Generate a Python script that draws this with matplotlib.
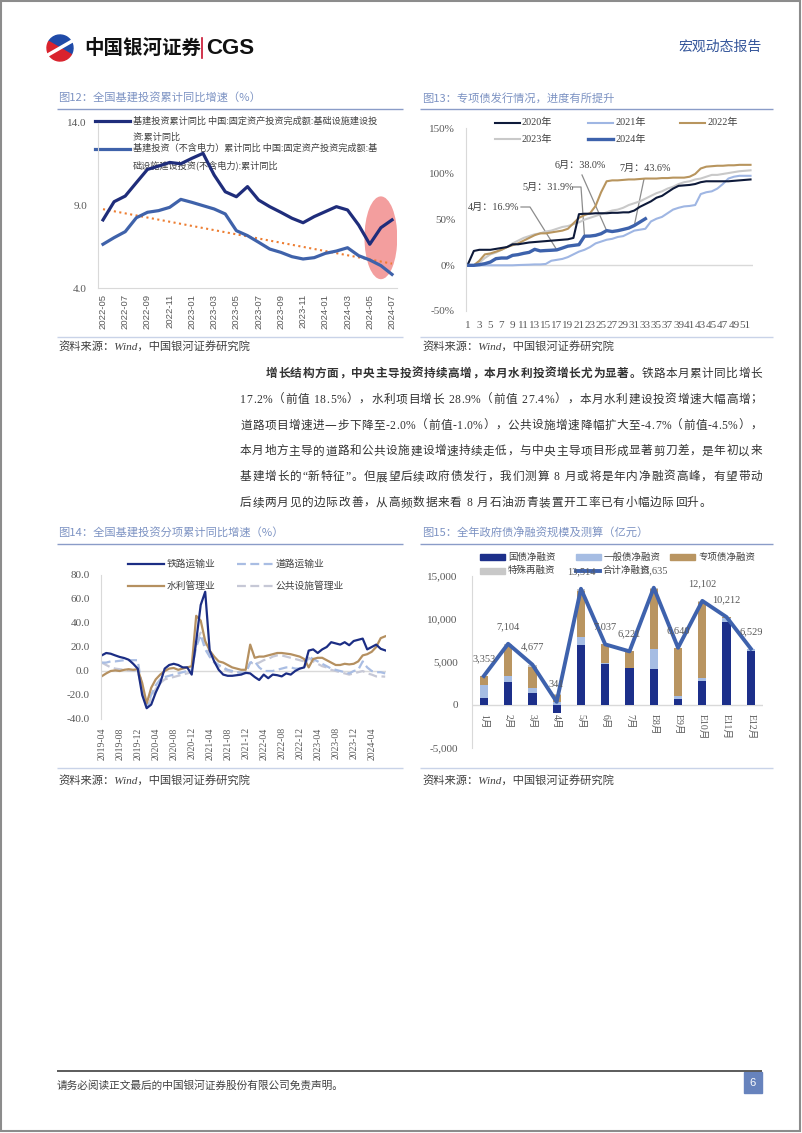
import matplotlib
matplotlib.use('Agg')
import matplotlib.pyplot as plt
import numpy as np
import pandas as pd
from matplotlib.patches import Rectangle, Ellipse, Wedge
from matplotlib.font_manager import FontProperties

W, H = 802, 1133
SERIF = ['Liberation Serif', 'Noto Sans CJK SC']
SANS = ['Liberation Sans', 'Noto Sans CJK SC']
CJK = ['Noto Sans CJK SC', 'DejaVu Sans']
plt.rcParams['font.family'] = SERIF
plt.rcParams['axes.unicode_minus'] = False

TICK = '#595959'
TXT = '#404040'
TITLE = '#7d93c3'
GRID = '#d9d9d9'

# ---- data: fig 12 ----
infra_months = list(pd.period_range('2022-05', '2024-07', freq='M').strftime('%Y-%m'))
infra_total = [8.13, 9.23, 9.57, 10.38, 11.18, 11.38, 11.6, 11.52, 11.85, 12.15, 10.84, 9.83, 9.53,
               10.14, 9.33, 8.93, 8.59, 8.23, 7.96, 8.33, 8.63, 8.93, 8.73, 7.82, 6.66, 7.66, 8.13]
infra_ex_power = [6.66, 7.06, 7.42, 8.26, 8.59, 8.69, 8.89, 9.37, 9.19, 8.99, 8.79, 8.49, 7.48,
                  7.18, 6.78, 6.37, 6.17, 5.91, 5.77, 5.85, 6.11, 6.25, 6.45, 5.97, 5.71, 5.37, 4.84]

# ---- data: fig 13 (weekly progress, %) ----
y2020 = [2, 15.7, 17, 17, 17, 18, 19, 20, 23, 23, 24, 25, 25.5, 26, 26.5, 27, 27.5, 28, 28.5, 30,
         56, 56.5, 56.5, 57, 57, 57, 57.5, 57.5, 58, 58, 60, 64, 67, 70, 74, 76, 80, 84, 87, 87.5,
         88, 89, 91, 92, 92, 92, 92, 92, 92.5, 93, 93.5, 94]
y2021 = [0, 0, 0, 0, 0, 0, 0, 0, 0, 0.3, 0.5, 0.7, 1, 1, 1.5, 5, 6, 7, 9, 12, 15, 17, 20, 24, 26,
         28, 29, 31, 32, 35, 38, 39, 40, 48, 51, 53, 57, 61, 63, 64.5, 65, 66, 78, 80, 81, 84, 89,
         95, 97, 98, 98, 98]
y2022 = [0, 0, 5, 12, 13, 15, 17, 20, 22, 24, 27, 30, 33, 35, 35, 36, 37, 38, 40, 46, 52, 55, 57,
         65, 80, 92, 93, 93, 93.5, 94, 94, 94.5, 95, 95, 95, 95.5, 95.5, 96, 96, 96, 97, 100, 106,
         108, 108.5, 109, 109, 109.5, 109.5, 110, 110, 110]
y2023 = [0, 0, 3, 8, 12, 14, 17, 20, 24, 27, 30, 32, 34, 35, 37, 38, 40, 42, 43, 45, 47, 50, 52,
         54, 56, 58, 60, 61, 63, 66, 68, 70, 73, 76, 79, 81, 84, 86, 89, 91, 92, 94, 95, 97, 99, 99,
         100, 101, 102, 103, 103.5, 104]
y2024 = [0, 0, 0.7, 1.8, 3.6, 7.3, 8, 8, 10.9, 11.7, 13.1, 14.2, 17.5, 15.8, 16.2, 16.5, 16.9,
         18.9, 21, 21.8, 22.6, 31.9, 32, 32.8, 34.6, 38.0, 37, 37.9, 39.3, 40.8, 43.6, 47.3, 51]
note_weeks = [17, 22, 26, 31]
note_months = ['4月', '5月', '6月', '7月']

# ---- data: fig 14 ----
sub_months = list(pd.period_range('2019-04', '2024-07', freq='M').strftime('%Y-%m'))
rail = [13, 15, 14.4, 13, 11.7, 10.8, 9.4, 6, 2, -20, -31, -28, -18, -10, 2, 5, 6, 5, 3, 3,
        -3, 25, 55, 66, 17, 8, 1, -3, -4, -4, -3.5, -3, -1.5, -2, -5, -7.5, -3, -6, -3, -3.5,
        -4.5, -2, -3, 0, 2, 3, 17, 18, 15, 18, 20, 24, 23, 22, 24, 21.5, 25, 26, 27, 18,
        20, 22, 18.5, 17.2]
water = [-4.4, -2, 0, 0.5, 0, 1, 1.5, 1, 1.5, -10, -27, -14, -7, -3, 0, 2, 2.5, 1, 2, 3,
         4, 46, 42, 25, 17, 12, 8, 7, 5, 3, 2, 1, 1, 22, 11, 12, 12, 13, 14, 15,
         15, 14.5, 14, 13, 12, 10, 3, 10, 11, 11, 9, 7, 5, 5, 6, 5.5, 6, 8, 13, 14,
         16, 20, 27.4, 28.9]
road = [7, 7, 8, 8, 8.5, 9, 9, 9, 9, -15, -30, -20, -12, -7, -5, -4, -3, -2, -1, 0,
        1, 20, 30, 18, 12, 8, 5, 3, 1, 0, -1, -1.5, -2, 7, 8, 3, 0, 0, 0, 1,
        2, 3, 3, 2, 2, 3, 12, 10, 8, 6, 4, 2, 1, 0, -1, -2, 0, 1, 8, 3,
        0, -1, -1, -2]
public = [7, 5, 3, 2, 1.5, 1, 0.5, 0.3, 0, -15, -32, -22, -15, -10, -7, -6, -5, -4, -3, -2,
          -1, 25, 32, 22, 12, 7, 4, 2, 0, -1, -1, -1, -1, 7, 6, 7, 9, 10, 12, 13,
          13, 12, 11, 10, 9, 8, 11, 8, 6, 4, 3, 1, 0, -1, -2, -3, -2, -1, 0, -2,
          -3, -4.5, -4.5, -4.7]

# ---- data: fig 15 (亿元) ----
months15 = ['1月', '2月', '3月', '4月', '5月', '6月', '7月', 'E8月', 'E9月', 'E10月', 'E11月', 'E12月']
treasury = [778, 2646, 1401, -950, 6926, 4786, 4280, 4200, 623, 2763, 9650, 6226]
general = [1557, 740, 583, 350, 973, 100, 0, 2335, 350, 389, 506, 303]
special = [1018, 3420, 2413, 800, 5340, 2151, 1941, 6900, 5667, 8850, 56, 0]
refin = [0, 298, 280, 141, 275, 0, 0, 200, 0, 100, 0, 0]
total = [3353, 7104, 4677, 341, 13514, 7037, 6221, 13635, 6640, 12102, 10212, 6529]

body = [
    [('增长结构方面，中央主导投资持续高增，本月水利投资增长尤为显著。', 'bold'), ('铁路本月累计同比增长', 'normal')],
    [('17.2%（前值 18.5%），水利项目增长 28.9%（前值 27.4%），本月水利建设投资增速大幅高增；', 'normal')],
    [('道路项目增速进一步下降至-2.0%（前值-1.0%），公共设施增速降幅扩大至-4.7%（前值-4.5%），', 'normal')],
    [('本月地方主导的道路和公共设施建设增速持续走低，与中央主导项目形成显著剪刀差，是年初以来', 'normal')],
    [('基建增长的“新特征”。但展望后续政府债发行，我们测算 8 月或将是年内净融资高峰，有望带动', 'normal')],
    [('后续两月见的边际改善，从高频数据来看 8 月石油沥青装置开工率已有小幅边际回升。', 'normal')],
]

fig = plt.figure(figsize=(W / 100, H / 100), dpi=100)
page = fig.add_axes([0, 0, 1, 1])
page.set_xlim(0, W)
page.set_ylim(H, 0)
page.axis('off')


def frame(l, t, r, b):
    ax = fig.add_axes([l / W, 1 - b / H, (r - l) / W, (b - t) / H])
    ax.patch.set_alpha(0)
    for s in ax.spines.values():
        s.set_visible(False)
    ax.spines['left'].set_visible(True)
    ax.spines['left'].set_color(GRID)
    ax.tick_params(length=0, colors=TICK, labelsize=8)
    return ax


def hline(x0, x1, y, color, lw=1.0):
    page.plot([x0, x1], [y, y], color=color, lw=lw, solid_capstyle='butt')


def ptext(x, y, s, size, color=TXT, **kw):
    kw.setdefault('va', 'center')
    kw.setdefault('family', CJK)
    page.text(x, y, s, fontsize=size, color=color, **kw)


# ---- page furniture ----
page.add_patch(Rectangle((1, 1), 799, 1130, fill=False, edgecolor='#8c8c8c', lw=1.5))
page.add_patch(Wedge((60, 48), 13, -150, 30, color='#1f4aa8'))
page.add_patch(Wedge((60, 48), 13, 30, 210, color='#d9232d'))
page.plot([60 - 11.3, 60 + 11.3], [48 + 6.5, 48 - 6.5], color='white', lw=2.5)
ptext(84, 48, '中国银河证券', 14, color='#111111', weight='bold')
page.plot([202, 202], [38, 58], color='#c8102e', lw=1.2)
ptext(206, 48, 'CGS', 16, color='#111111', weight='bold', family=['Liberation Sans'])
ptext(762, 47, '宏观动态报告', 10, color='#34559a', ha='right')

titles = [(58, 98, '图12：全国基建投资累计同比增速（%）'), (422, 98, '图13：专项债发行情况，进度有所提升'),
          (58, 533, '图14：全国基建投资分项累计同比增速（%）'), (422, 533, '图15：全年政府债净融资规模及测算（亿元）')]
for x, y, s in titles:
    ptext(x, y, s, 8.1, color=TITLE)
for x0, x1 in [(57, 403), (420, 773)]:
    hline(x0, x1, 108.5, '#8a9cc8')
    hline(x0, x1, 544, '#8a9cc8')
    hline(x0, x1, 337, '#c9d3e8')
    hline(x0, x1, 768, '#c9d3e8')
for x, y in [(58, 347), (422, 347), (58, 781), (422, 781)]:
    ptext(x, y, '资料来源：Wind，中国银河证券研究院', 8.1, style='italic', family=SERIF)

hline(57, 762, 1071, '#404040', 1.2)
ptext(57, 1085, '请务必阅读正文最后的中国银河证券股份有限公司免责声明。', 7.7)
page.add_patch(Rectangle((744, 1072), 18, 21, color='#6783bd'))
ptext(753, 1083, '6', 8, color='white', ha='center', family=SANS)

# ---- body text, justified ----
rend = fig.canvas.get_renderer()
BODY_SIZE = 8.4


def char_width(c, weight):
    if c == ' ':
        return BODY_SIZE * 100 / 72 * 0.28
    fp = FontProperties(family=SERIF, size=BODY_SIZE, weight=weight)
    w, _, _ = rend.get_text_width_height_descent(c, fp, ismath=False)
    return w


def draw_line(runs, x0, x1, y, gap=None):
    chars = [(c, wt) for s, wt in runs for c in s]
    widths = [char_width(c, wt) for c, wt in chars]
    if gap is None:
        gap = (x1 - x0 - sum(widths)) / (len(chars) - 1)
    x = x0
    for (c, wt), w in zip(chars, widths):
        page.text(x, y, c, fontsize=BODY_SIZE, weight=wt, color='#333333', va='center', family=SERIF)
        x += w + gap
    return gap


line_gap = 0.8
for i, runs in enumerate(body):
    y = 374 + i * 25.8
    x0 = 266 if i == 0 else 240
    if i == len(body) - 1:
        draw_line(runs, x0, 762, y, gap=line_gap + 0.2)
    else:
        g = draw_line(runs, x0, 762, y)
        if i == 3:
            line_gap = g

# ---- fig 12 ----
ax1 = frame(98, 122.7, 397, 288.3)
x1 = np.arange(len(infra_months))
ax1.add_patch(Ellipse((25, 7.05), 2.95, 5.0, color='#f39e9e', lw=0, zorder=1))
k, b = np.polyfit(x1, infra_ex_power, 1)
ends = x1[[0, -1]]
ax1.plot(ends, k * ends + b, ls=':', color='#ed7d31', lw=1.5, zorder=2)
ax1.plot(x1, infra_total, color='#1f2d7b', lw=2.3, zorder=3)
ax1.plot(x1, infra_ex_power, color='#3f62aa', lw=2.3, zorder=3)
ax1.set_xlim(-0.45, 26.45)
ax1.set_ylim(4, 14)
ax1.set_yticks([4, 9, 14])
ax1.yaxis.set_major_formatter('{x:.1f}')
ax1.set_xticks(x1[::2], infra_months[::2], rotation=90, family=SANS, fontsize=6.8)
ax1.spines['bottom'].set_visible(True)
ax1.spines['bottom'].set_color(GRID)
ax1.tick_params(axis='y', pad=8)
ax1.tick_params(axis='x', pad=4)

leg_size = 6.6
page.plot([95, 130], [121, 121], color='#1f2d7b', lw=2.3)
ptext(133, 121, '基建投资累计同比 中国:固定资产投资完成额:基础设施建设投', leg_size)
ptext(133, 137.5, '资:累计同比', leg_size)
page.plot([95, 130], [148.5, 148.5], color='#3f62aa', lw=2.3)
ptext(133, 148.5, '基建投资（不含电力）累计同比 中国:固定资产投资完成额:基', leg_size)
ptext(133, 165.5, '础设施建设投资(不含电力):累计同比', leg_size)

# ---- fig 13 ----
ax2 = frame(465.5, 128.3, 753.3, 311)
weeks = np.arange(1, 53)
ax2.axhline(0, color=GRID, lw=1)
series13 = [('2021年', y2021, '#9fb6e3', 1.5), ('2023年', y2023, '#c9c9c9', 1.5),
            ('2022年', y2022, '#b8955e', 1.5), ('2020年', y2020, '#0e1a3a', 1.5),
            ('2024年', y2024, '#3d62ac', 2.4)]
for name, vals, color, lw in series13:
    ax2.plot(weeks[:len(vals)], vals, color=color, lw=lw)
ax2.set_xlim(0.5, 52.5)
ax2.set_ylim(-50, 150)
ax2.set_yticks([-50, 0, 50, 100, 150])
ax2.yaxis.set_major_formatter('{x:.0f}%')
ax2.set_xticks(weeks[:51:2])
ax2.tick_params(axis='y', pad=7.5)
ax2.tick_params(axis='x', pad=7)

leg13 = {'2020年': (495, 122.7), '2021年': (588, 122.7), '2022年': (680, 122.7),
         '2023年': (495, 139), '2024年': (588, 139)}
for name, vals, color, lw in series13:
    lx, ly = leg13[name]
    page.plot([lx, lx + 25], [ly, ly], color=color, lw=lw)
    ptext(lx + 27, ly, name, 7.3, family=SERIF)

note_pos = [((468, 207), [(521, 207), (530, 207)]),
            ((522, 187), [(573, 187), (581, 187)]),
            ((555, 165), [(582, 175)]),
            ((619, 168.3), [(644, 179)])]
to_page = page.transData.inverted()
for w, m, (txy, path) in zip(note_weeks, note_months, note_pos):
    v = y2024[w - 1]
    ptext(txy[0], txy[1], f'{m}：{v:.1f}%', 7.3, family=SERIF)
    px, py = to_page.transform(ax2.transData.transform((w, v)))
    pts = path + [(px, py)]
    page.plot([p[0] for p in pts], [p[1] for p in pts], color='#8c8c8c', lw=0.9)

# ---- fig 14 ----
ax3 = frame(100.8, 575, 386.1, 719)
m14 = np.arange(len(sub_months))
ax3.axhline(0, color=GRID, lw=1)
series14 = [('公共设施管理业', public, '#c6c8d6', (0, (4, 2))), ('道路运输业', road, '#a9bde3', (0, (4, 2))),
            ('水利管理业', water, '#b59060', '-'), ('铁路运输业', rail, '#1b2d84', '-')]
for name, vals, color, ls in series14:
    ax3.plot(m14, vals, color=color, lw=1.6, ls=ls)
ax3.set_xlim(-0.2, 63.2)
ax3.set_ylim(-40, 80)
ax3.set_yticks(np.arange(-40, 81, 20))
ax3.yaxis.set_major_formatter('{x:.1f}')
ax3.set_xticks(m14[::4], sub_months[::4], rotation=90, fontsize=7)
ax3.tick_params(axis='y', pad=8)
ax3.tick_params(axis='x', pad=6)

leg14 = {'铁路运输业': (128, 564), '道路运输业': (237, 564), '水利管理业': (128, 585.7), '公共设施管理业': (237, 585.7)}
for name, vals, color, ls in series14:
    lx, ly = leg14[name]
    page.plot([lx, lx + 36], [ly, ly], color=color, lw=1.6, ls=ls)
    ptext(lx + 39, ly, name, 7)

# ---- fig 15 ----
ax4 = frame(471.7, 576, 763, 747.7)
x15 = np.arange(len(months15))
pos = np.zeros(len(months15))
neg = np.zeros(len(months15))
bars15 = [('国债净融资', treasury, '#1c2f8a'), ('一般债净融资', general, '#a6bde3'),
          ('专项债净融资', special, '#b99561'), ('特殊再融资', refin, '#c8c8c8')]
ax4.axhline(0, color=GRID, lw=1, zorder=1)
for name, vals, color in bars15:
    v = np.array(vals, float)
    ax4.bar(x15, v, 0.34, bottom=np.where(v >= 0, pos, neg), color=color, zorder=2)
    pos += np.clip(v, 0, None)
    neg += np.clip(v, None, 0)
ax4.plot(x15, total, color='#3e62ad', lw=2.8, zorder=3)
for xi, t in zip(x15, total):
    ax4.annotate(f'{t:,}', (xi, t), xytext=(0, 12.5), textcoords='offset points',
                 ha='center', va='center', fontsize=7.5, color=TICK, zorder=4)
for xi, m in zip(x15, months15):
    ax4.annotate(m, (xi, 0), xytext=(0, -6.5), textcoords='offset points', rotation=-90,
                 ha='center', va='top', fontsize=7, color=TICK)
ax4.set_xlim(-0.5, 11.5)
ax4.set_ylim(-5000, 15000)
ax4.set_yticks(np.arange(-5000, 15001, 5000))
ax4.yaxis.set_major_formatter('{x:,.0f}')
ax4.set_xticks([])
ax4.tick_params(axis='y', pad=10)

leg15 = [(480, 557.3), (576, 557.3), (670, 557.3), (480, 570.7)]
for (name, vals, color), (lx, ly) in zip(bars15, leg15):
    page.add_patch(Rectangle((lx, ly - 3), 25, 6, color=color))
    ptext(lx + 28, ly, name, 6.8)
page.plot([576, 600], [570.7, 570.7], color='#3e62ad', lw=2.8)
ptext(603, 570.7, '合计净融资', 6.8)

fig.savefig('out.png', dpi=100)
